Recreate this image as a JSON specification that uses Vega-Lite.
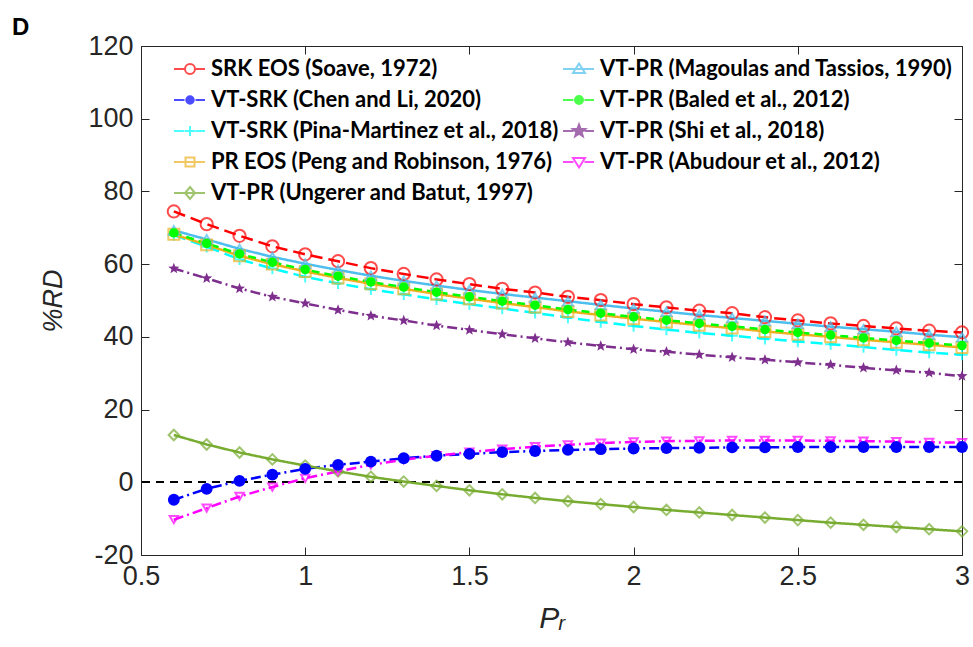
{
  "$schema": "https://vega.github.io/schema/vega-lite/v6.json",
  "width": 821,
  "height": 509,
  "autosize": {"type": "none"},
  "padding": {"left": 141, "top": 46, "right": 11, "bottom": 92},
  "background": "white",
  "config": {
    "view": {"stroke": null},
    "font": "Liberation Sans",
    "axis": {
      "grid": false,
      "domainColor": "#262626",
      "domainWidth": 1,
      "tickColor": "#262626",
      "tickWidth": 1,
      "labelColor": "#262626",
      "labelFont": "Liberation Sans",
      "labelFontSize": 27,
      "labelFlush": false,
      "titleColor": "#262626",
      "titleFont": "Liberation Sans",
      "titleFontWeight": "normal",
      "titleFontStyle": "italic"
    }
  },
  "title": {
    "text": "D",
    "anchor": "start",
    "frame": "group",
    "dx": -129,
    "dy": 29,
    "offset": 2,
    "baseline": "alphabetic",
    "font": "Liberation Sans",
    "fontSize": 24,
    "fontWeight": "bold",
    "color": "black"
  },
  "data": {
    "values": [
      {"Pr": 0.6, "SRK": 74.5, "Magoulas": 69.3, "ChenLi": -4.8, "Baled": 68.6, "PinaM": 68.0, "Shi": 58.8, "PR": 68.2, "Abudour": -10.3, "Ungerer": 13.0},
      {"Pr": 0.7, "SRK": 71.0, "Magoulas": 66.8, "ChenLi": -1.8, "Baled": 65.7, "PinaM": 64.8, "Shi": 56.1, "PR": 65.3, "Abudour": -7.1, "Ungerer": 10.4},
      {"Pr": 0.8, "SRK": 67.8, "Magoulas": 64.2, "ChenLi": 0.4, "Baled": 62.8, "PinaM": 61.3, "Shi": 53.3, "PR": 62.3, "Abudour": -3.9, "Ungerer": 8.2},
      {"Pr": 0.9, "SRK": 64.9, "Magoulas": 62.0, "ChenLi": 2.1, "Baled": 60.5, "PinaM": 58.8, "Shi": 51.0, "PR": 60.0, "Abudour": -1.3, "Ungerer": 6.3},
      {"Pr": 1.0, "SRK": 62.7, "Magoulas": 60.1, "ChenLi": 3.7, "Baled": 58.5, "PinaM": 56.5, "Shi": 49.2, "PR": 58.0, "Abudour": 1.1, "Ungerer": 4.6},
      {"Pr": 1.1, "SRK": 60.8, "Magoulas": 58.4, "ChenLi": 4.8, "Baled": 56.7, "PinaM": 54.7, "Shi": 47.4, "PR": 56.2, "Abudour": 3.0, "Ungerer": 3.0},
      {"Pr": 1.2, "SRK": 58.9, "Magoulas": 56.8, "ChenLi": 5.7, "Baled": 55.1, "PinaM": 53.1, "Shi": 45.8, "PR": 54.6, "Abudour": 4.8, "Ungerer": 1.5},
      {"Pr": 1.3, "SRK": 57.3, "Magoulas": 55.4, "ChenLi": 6.6, "Baled": 53.7, "PinaM": 51.7, "Shi": 44.5, "PR": 53.2, "Abudour": 6.2, "Ungerer": 0.2},
      {"Pr": 1.4, "SRK": 55.8, "Magoulas": 54.1, "ChenLi": 7.3, "Baled": 52.3, "PinaM": 50.3, "Shi": 43.1, "PR": 51.8, "Abudour": 7.3, "Ungerer": -1.0},
      {"Pr": 1.5, "SRK": 54.5, "Magoulas": 52.9, "ChenLi": 7.8, "Baled": 51.0, "PinaM": 49.0, "Shi": 41.9, "PR": 50.5, "Abudour": 8.3, "Ungerer": -2.2},
      {"Pr": 1.6, "SRK": 53.2, "Magoulas": 51.8, "ChenLi": 8.3, "Baled": 49.8, "PinaM": 47.8, "Shi": 40.7, "PR": 49.3, "Abudour": 9.1, "Ungerer": -3.3},
      {"Pr": 1.7, "SRK": 52.2, "Magoulas": 50.8, "ChenLi": 8.6, "Baled": 48.7, "PinaM": 46.6, "Shi": 39.6, "PR": 48.2, "Abudour": 9.8, "Ungerer": -4.3},
      {"Pr": 1.8, "SRK": 51.0, "Magoulas": 49.8, "ChenLi": 8.9, "Baled": 47.5, "PinaM": 45.3, "Shi": 38.5, "PR": 47.0, "Abudour": 10.3, "Ungerer": -5.2},
      {"Pr": 1.9, "SRK": 50.1, "Magoulas": 48.8, "ChenLi": 9.1, "Baled": 46.5, "PinaM": 44.1, "Shi": 37.5, "PR": 46.0, "Abudour": 10.8, "Ungerer": -6.0},
      {"Pr": 2.0, "SRK": 49.0, "Magoulas": 47.8, "ChenLi": 9.3, "Baled": 45.5, "PinaM": 43.0, "Shi": 36.6, "PR": 45.0, "Abudour": 11.1, "Ungerer": -6.8},
      {"Pr": 2.1, "SRK": 48.1, "Magoulas": 46.9, "ChenLi": 9.4, "Baled": 44.6, "PinaM": 42.0, "Shi": 35.9, "PR": 44.1, "Abudour": 11.3, "Ungerer": -7.6},
      {"Pr": 2.2, "SRK": 47.2, "Magoulas": 46.0, "ChenLi": 9.5, "Baled": 43.7, "PinaM": 41.1, "Shi": 35.1, "PR": 43.2, "Abudour": 11.4, "Ungerer": -8.3},
      {"Pr": 2.3, "SRK": 46.5, "Magoulas": 45.2, "ChenLi": 9.6, "Baled": 42.9, "PinaM": 40.3, "Shi": 34.4, "PR": 42.4, "Abudour": 11.5, "Ungerer": -9.0},
      {"Pr": 2.4, "SRK": 45.4, "Magoulas": 44.4, "ChenLi": 9.6, "Baled": 42.0, "PinaM": 39.5, "Shi": 33.7, "PR": 41.5, "Abudour": 11.5, "Ungerer": -9.7},
      {"Pr": 2.5, "SRK": 44.5, "Magoulas": 43.6, "ChenLi": 9.7, "Baled": 41.2, "PinaM": 38.7, "Shi": 33.0, "PR": 40.7, "Abudour": 11.5, "Ungerer": -10.4},
      {"Pr": 2.6, "SRK": 43.7, "Magoulas": 42.8, "ChenLi": 9.7, "Baled": 40.5, "PinaM": 38.0, "Shi": 32.3, "PR": 40.0, "Abudour": 11.4, "Ungerer": -11.1},
      {"Pr": 2.7, "SRK": 43.0, "Magoulas": 42.1, "ChenLi": 9.7, "Baled": 39.7, "PinaM": 37.2, "Shi": 31.5, "PR": 39.2, "Abudour": 11.3, "Ungerer": -11.7},
      {"Pr": 2.8, "SRK": 42.3, "Magoulas": 41.4, "ChenLi": 9.7, "Baled": 39.0, "PinaM": 36.4, "Shi": 30.8, "PR": 38.5, "Abudour": 11.2, "Ungerer": -12.3},
      {"Pr": 2.9, "SRK": 41.7, "Magoulas": 40.6, "ChenLi": 9.7, "Baled": 38.3, "PinaM": 35.7, "Shi": 30.1, "PR": 37.8, "Abudour": 11.0, "Ungerer": -12.9},
      {"Pr": 3.0, "SRK": 41.2, "Magoulas": 39.9, "ChenLi": 9.7, "Baled": 37.6, "PinaM": 35.1, "Shi": 29.2, "PR": 37.1, "Abudour": 10.9, "Ungerer": -13.5}
    ]
  },
  "transform": [
    {"fold": ["SRK", "ChenLi", "PinaM", "PR", "Ungerer", "Magoulas", "Baled", "Shi", "Abudour"], "as": ["s", "RD"]}
  ],
  "resolve": {
    "scale": {"color": "independent", "shape": "independent", "fill": "independent", "strokeDash": "independent"},
    "axis": {"x": "independent", "y": "independent"}
  },
  "layer": [
    {
      "mark": {"type": "rule", "color": "black", "strokeDash": [8, 6], "strokeWidth": 1.5},
      "encoding": {"y": {"datum": 0, "type": "quantitative", "axis": null}}
    },
    {
      "mark": {"type": "line", "strokeWidth": 2.5},
      "encoding": {
        "x": {
          "field": "Pr", "type": "quantitative",
          "scale": {"domain": [0.5, 3], "nice": false, "zero": false},
          "axis": {
            "orient": "bottom",
            "values": [0.5, 1, 1.5, 2, 2.5, 3],
            "labelExpr": "'' + datum.value",
            "tickSize": -8,
            "labelPadding": 16,
            "title": "Pᵣ",
            "titleFontSize": 30,
            "titlePadding": 14
          }
        },
        "y": {
          "field": "RD", "type": "quantitative",
          "scale": {"domain": [-20, 120], "nice": false},
          "axis": {
            "orient": "left",
            "values": [-20, 0, 20, 40, 60, 80, 100, 120],
            "labelExpr": "'' + datum.value",
            "tickSize": -8,
            "labelPadding": 16,
            "title": "%RD",
            "titleFontSize": 27,
            "titlePadding": 20
          }
        },
        "color": {
          "field": "s", "type": "nominal", "legend": null,
          "scale": {
            "domain": ["SRK", "ChenLi", "PinaM", "PR", "Ungerer", "Magoulas", "Baled", "Shi", "Abudour"],
            "range": ["#FF0000", "#0000FF", "#00FFFF", "#EDB120", "#77AC30", "#4DBEEE", "#00FF00", "#7E2F8E", "#FF00FF"]
          }
        },
        "strokeDash": {
          "field": "s", "type": "nominal", "legend": null,
          "scale": {
            "domain": ["SRK", "ChenLi", "PinaM", "PR", "Ungerer", "Magoulas", "Baled", "Shi", "Abudour"],
            "range": [[12, 6], [10, 4, 2, 4], [12, 6], [1, 0], [1, 0], [1, 0], [8, 5], [10, 4, 2, 4], [10, 4, 2, 4]]
          }
        }
      }
    },
    {
      "transform": [{"filter": {"field": "s", "oneOf": ["SRK", "PinaM", "PR", "Ungerer", "Magoulas", "Abudour"]}}],
      "mark": {"type": "point", "filled": false, "strokeWidth": 2},
      "encoding": {
        "x": {"field": "Pr", "type": "quantitative", "axis": null},
        "y": {"field": "RD", "type": "quantitative", "axis": null},
        "color": {
          "field": "s", "type": "nominal", "legend": null,
          "scale": {
            "domain": ["SRK", "ChenLi", "PinaM", "PR", "Ungerer", "Magoulas", "Baled", "Shi", "Abudour"],
            "range": ["#FF0000", "#0000FF", "#00FFFF", "#EDB120", "#77AC30", "#4DBEEE", "#00FF00", "#7E2F8E", "#FF00FF"]
          }
        },
        "shape": {
          "field": "s", "type": "nominal", "legend": null,
          "scale": {
            "domain": ["SRK", "ChenLi", "PinaM", "PR", "Ungerer", "Magoulas", "Baled", "Shi", "Abudour"],
            "range": ["circle", "circle", "M-1,0H1M0,-1V1", "square", "diamond", "triangle-up", "circle", "M0,-1.3L0.32,-0.45L1.24,-0.4L0.52,0.17L0.76,1.05L0,0.55L-0.76,1.05L-0.52,0.17L-1.24,-0.4L-0.32,-0.45Z", "triangle-down"]
          }
        },
        "size": {
          "field": "s", "type": "nominal", "legend": null,
          "scale": {
            "domain": ["SRK", "ChenLi", "PinaM", "PR", "Ungerer", "Magoulas", "Baled", "Shi", "Abudour"],
            "range": [150, 70, 150, 100, 180, 190, 80, 320, 190]
          }
        }
      }
    },
    {
      "transform": [{"filter": {"field": "s", "oneOf": ["ChenLi", "Baled", "Shi"]}}],
      "mark": {"type": "point", "filled": true, "opacity": 1},
      "encoding": {
        "x": {"field": "Pr", "type": "quantitative", "axis": null},
        "y": {"field": "RD", "type": "quantitative", "axis": null},
        "color": {
          "field": "s", "type": "nominal", "legend": null,
          "scale": {
            "domain": ["SRK", "ChenLi", "PinaM", "PR", "Ungerer", "Magoulas", "Baled", "Shi", "Abudour"],
            "range": ["#FF0000", "#0000FF", "#00FFFF", "#EDB120", "#77AC30", "#4DBEEE", "#00FF00", "#7E2F8E", "#FF00FF"]
          }
        },
        "shape": {
          "field": "s", "type": "nominal", "legend": null,
          "scale": {
            "domain": ["SRK", "ChenLi", "PinaM", "PR", "Ungerer", "Magoulas", "Baled", "Shi", "Abudour"],
            "range": ["circle", "circle", "M-1,0H1M0,-1V1", "square", "diamond", "triangle-up", "circle", "M0,-1.3L0.32,-0.45L1.24,-0.4L0.52,0.17L0.76,1.05L0,0.55L-0.76,1.05L-0.52,0.17L-1.24,-0.4L-0.32,-0.45Z", "triangle-down"]
          }
        },
        "size": {
          "field": "s", "type": "nominal", "legend": null,
          "scale": {
            "domain": ["SRK", "ChenLi", "PinaM", "PR", "Ungerer", "Magoulas", "Baled", "Shi", "Abudour"],
            "range": [150, 70, 150, 100, 180, 190, 80, 320, 190]
          }
        }
      }
    },
    {
      "mark": {"type": "point", "filled": false, "strokeWidth": 2, "size": 0},
      "encoding": {
        "x": {
          "field": "Pr", "type": "quantitative",
          "axis": {"orient": "top", "values": [0.5, 1, 1.5, 2, 2.5, 3], "labels": false, "tickSize": -8, "title": null}
        },
        "y": {
          "field": "RD", "type": "quantitative",
          "axis": {"orient": "right", "values": [-20, 0, 20, 40, 60, 80, 100, 120], "labels": false, "tickSize": -8, "title": null}
        },
        "color": {
          "field": "s", "type": "nominal",
          "scale": {
            "domain": ["SRK", "ChenLi", "PinaM", "PR", "Ungerer", "Magoulas", "Baled", "Shi", "Abudour"],
            "range": ["#FF0000", "#0000FF", "#00FFFF", "#EDB120", "#77AC30", "#4DBEEE", "#00FF00", "#7E2F8E", "#FF00FF"]
          },
          "legend": {
            "orient": "none", "legendX": 38, "legendY": 12, "columns": 2, "title": null,
            "labelFont": "Lato", "labelFontSize": 22, "labelFontWeight": "bold", "labelColor": "black",
            "labelLimit": 500, "labelOffset": 10, "rowPadding": 9, "columnPadding": 0,
            "symbolSize": 100, "symbolStrokeWidth": 2, "symbolFillColor": "transparent", "symbolStrokeColor": "black",
            "labelExpr": "{SRK: 'SRK EOS (Soave, 1972)', Magoulas: 'VT-PR (Magoulas and Tassios, 1990)', ChenLi: 'VT-SRK (Chen and Li, 2020)', Baled: 'VT-PR (Baled et al., 2012)', PinaM: 'VT-SRK (Pina-Martinez et al., 2018)', Shi: 'VT-PR (Shi et al., 2018)', PR: 'PR EOS (Peng and Robinson, 1976)', Abudour: 'VT-PR (Abudour et al., 2012)', Ungerer: 'VT-PR (Ungerer and Batut, 1997)'}[datum.value]"
          }
        },
        "fill": {
          "field": "s", "type": "nominal",
          "scale": {
            "domain": ["SRK", "ChenLi", "PinaM", "PR", "Ungerer", "Magoulas", "Baled", "Shi", "Abudour"],
            "range": ["transparent", "#0000FF", "transparent", "transparent", "transparent", "transparent", "#00FF00", "#7E2F8E", "transparent"]
          },
          "legend": {
            "orient": "none", "legendX": 38, "legendY": 12, "columns": 2, "title": null,
            "labelFont": "Lato", "labelFontSize": 22, "labelFontWeight": "bold", "labelColor": "black",
            "labelLimit": 500, "labelOffset": 10, "rowPadding": 9, "columnPadding": 0,
            "symbolSize": 100, "symbolStrokeWidth": 2, "symbolFillColor": "transparent", "symbolStrokeColor": "black",
            "labelExpr": "{SRK: 'SRK EOS (Soave, 1972)', Magoulas: 'VT-PR (Magoulas and Tassios, 1990)', ChenLi: 'VT-SRK (Chen and Li, 2020)', Baled: 'VT-PR (Baled et al., 2012)', PinaM: 'VT-SRK (Pina-Martinez et al., 2018)', Shi: 'VT-PR (Shi et al., 2018)', PR: 'PR EOS (Peng and Robinson, 1976)', Abudour: 'VT-PR (Abudour et al., 2012)', Ungerer: 'VT-PR (Ungerer and Batut, 1997)'}[datum.value]"
          }
        },
        "shape": {
          "field": "s", "type": "nominal",
          "scale": {
            "domain": ["SRK", "ChenLi", "PinaM", "PR", "Ungerer", "Magoulas", "Baled", "Shi", "Abudour"],
            "range": [
              "M-3.2,0H-1.1M1.1,0H3M1,0A1,1 0 1,1 -1,0A1,1 0 1,1 1,0Z",
              "M-3.2,0H-1.1M1.1,0H3M0.75,0A0.75,0.75 0 1,1 -0.75,0A0.75,0.75 0 1,1 0.75,0Z",
              "M-3.2,0H-1.1M1.1,0H3M-1,0H1M0,-1V1",
              "M-3.2,0H3M-0.9,-0.9H0.9V0.9H-0.9Z",
              "M-3.2,0H3M0,-1.2L1,0L0,1.2L-1,0Z",
              "M-3.2,0H3M0,-1.1L1.2,0.8H-1.2Z",
              "M-3.2,0H-1.1M1.1,0H3M0.8,0A0.8,0.8 0 1,1 -0.8,0A0.8,0.8 0 1,1 0.8,0Z",
              "M-3.2,0H-1.1M1.1,0H3M0,-1.3L0.32,-0.45L1.24,-0.4L0.52,0.17L0.76,1.05L0,0.55L-0.76,1.05L-0.52,0.17L-1.24,-0.4L-0.32,-0.45Z",
              "M-3.2,0H-1.1M1.1,0H3M0,1.1L1.2,-0.8H-1.2Z"
            ]
          },
          "legend": {
            "orient": "none", "legendX": 38, "legendY": 12, "columns": 2, "title": null,
            "labelFont": "Lato", "labelFontSize": 22, "labelFontWeight": "bold", "labelColor": "black",
            "labelLimit": 500, "labelOffset": 10, "rowPadding": 9, "columnPadding": 0,
            "symbolSize": 100, "symbolStrokeWidth": 2, "symbolFillColor": "transparent", "symbolStrokeColor": "black",
            "labelExpr": "{SRK: 'SRK EOS (Soave, 1972)', Magoulas: 'VT-PR (Magoulas and Tassios, 1990)', ChenLi: 'VT-SRK (Chen and Li, 2020)', Baled: 'VT-PR (Baled et al., 2012)', PinaM: 'VT-SRK (Pina-Martinez et al., 2018)', Shi: 'VT-PR (Shi et al., 2018)', PR: 'PR EOS (Peng and Robinson, 1976)', Abudour: 'VT-PR (Abudour et al., 2012)', Ungerer: 'VT-PR (Ungerer and Batut, 1997)'}[datum.value]"
          }
        }
      }
    }
  ]
}
